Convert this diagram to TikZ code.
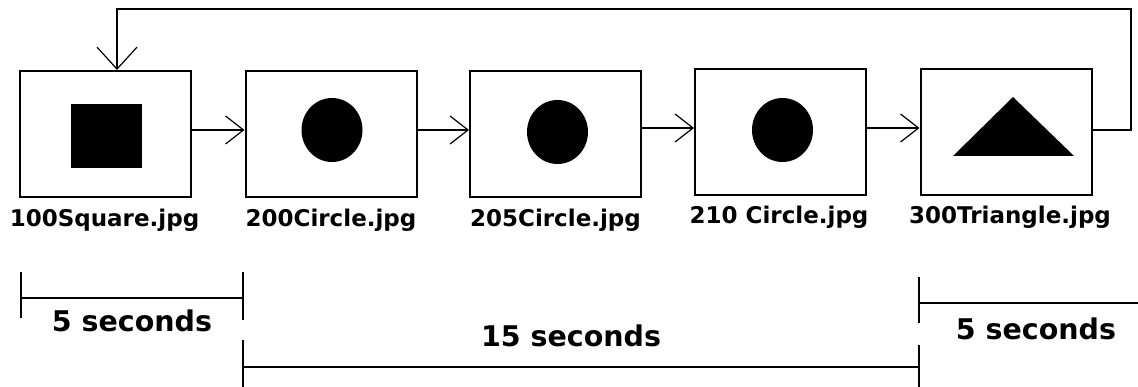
\documentclass[tikz,border=0pt]{standalone}
\usepackage{fontspec}
\setmainfont{DejaVu Sans}
\usetikzlibrary{arrows.meta}
\begin{document}
\begin{tikzpicture}[x=1pt,y=-1pt,
  frame/.style={draw,line width=2pt,minimum width=171pt,minimum height=126pt,inner sep=0pt},
  arr/.style={line width=2pt,-{Straight Barb[length=18pt,width=28pt,line width=1.2pt]}},
  looparr/.style={line width=2pt,-{Straight Barb[length=22pt,width=40pt,line width=1.2pt]}},
  fname/.style={font=\bfseries\fontsize{23}{25}\selectfont,anchor=base,inner sep=0pt},
  secs/.style={font=\bfseries\fontsize{28.5}{30}\selectfont,anchor=base,inner sep=0pt},
  bar/.style={line width=2pt}]
\useasboundingbox (0,0) rectangle (1138,387);
% frames
\node[frame] (b1) at (105.5,134) {};
\node[frame] (b2) at (331,134) {};
\node[frame] (b3) at (555.5,134) {};
\node[frame] (b4) at (780.5,132) {};
\node[frame] (b5) at (1006,132) {};
% contents
\fill (71,104) rectangle (142,168);
\fill (332,130) ellipse [x radius=30.5, y radius=32];
\fill (557.5,132) ellipse [x radius=30.5, y radius=32];
\fill (782.5,130) ellipse [x radius=30.5, y radius=32];
\fill (1013,97) -- (1074,156) -- (953,156) -- cycle;
% labels
\node[fname] (l1) at (104.5,227) {100Square.jpg};
\node[fname] (l2) at (331,227) {200Circle.jpg};
\node[fname] (l3) at (555.5,227) {205Circle.jpg};
\node[fname] (l4) at (779,224) {210 Circle.jpg};
\node[fname] (l5) at (1010,224) {300Triangle.jpg};
% arrows
\draw[arr] ([yshift=4pt]b1.east) -- ([yshift=4pt]b2.west);
\draw[arr] ([yshift=4pt]b2.east) -- ([yshift=4pt]b3.west);
\draw[arr] ([yshift=6pt]b3.east) -- ([yshift=4pt]b4.west);
\draw[arr] ([yshift=4pt]b4.east) -- ([yshift=4pt]b5.west);
\coordinate (ltop) at (117,9.5);
\coordinate (rtop) at (1131,9.5);
\draw[looparr] ([yshift=2pt]b5.east) -| (rtop) -- (ltop) -- (ltop |- b1.north);
% timeline
\draw[bar] (21,272) -- (21,318);
\draw[bar] (21,298) -- (243,298);
\draw[bar] (243,272) -- (243,320);
\node[secs] (s1) at (132,331) {5 seconds};
\draw[bar] (243,340) -- (243,387);
\draw[bar] (243,367) -- (919,367);
\draw[bar] (919,345) -- (919,387);
\node[secs] (s2) at (571,347) {15 seconds};
\draw[bar] (919,277) -- (919,323);
\draw[bar] (919,303) -- (1138,303);
\node[secs] (s3) at (1036,339) {5 seconds};
\end{tikzpicture}
\end{document}
